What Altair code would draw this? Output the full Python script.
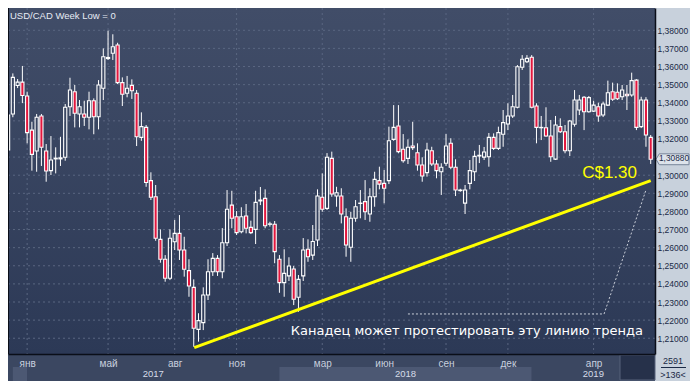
import json
import altair as alt
import pandas as pd

# ---- weekly USD/CAD candles, bar index 1..136 ----
OPEN = [1.3139, 1.3338, 1.3495, 1.3514, 1.3437, 1.3249, 1.3134, 1.3327, 1.3134, 1.3025,
        1.3090, 1.3090, 1.3099, 1.3378, 1.3461, 1.3338, 1.3338, 1.3320, 1.3411, 1.3323,
        1.3480, 1.3644, 1.3673, 1.3719, 1.3511, 1.3452, 1.3496, 1.3452, 1.3209, 1.3264,
        1.2970, 1.2881, 1.2646, 1.2536, 1.2431, 1.2633, 1.2679, 1.2587, 1.2473, 1.2381,
        1.2149, 1.2186, 1.2339, 1.2467, 1.2541, 1.2467, 1.2627, 1.2835, 1.2771, 1.2688,
        1.2775, 1.2712, 1.2701, 1.2858, 1.2872, 1.2729, 1.2729, 1.2536, 1.2407, 1.2444,
        1.2482, 1.2326, 1.2444, 1.2591, 1.2559, 1.2642, 1.2878, 1.2817, 1.3093, 1.2885,
        1.2885, 1.2771, 1.2602, 1.2762, 1.2844, 1.2854, 1.2786, 1.2881, 1.2970, 1.2955,
        1.2970, 1.3198, 1.3272, 1.3143, 1.3093, 1.3161, 1.3124, 1.3056, 1.3014, 1.3135,
        1.3062, 1.3019, 1.3066, 1.3176, 1.3044, 1.2915, 1.2846, 1.2955, 1.3019, 1.3106,
        1.3100, 1.3102, 1.3209, 1.3148, 1.3226, 1.3283, 1.3327, 1.3375, 1.3596, 1.3626,
        1.3651, 1.3382, 1.3262, 1.3262, 1.3216, 1.3089, 1.3268, 1.3240, 1.3135, 1.3281,
        1.3360, 1.3430, 1.3350, 1.3354, 1.3378, 1.3332, 1.3387, 1.3461, 1.3458, 1.3433,
        1.3447, 1.3443, 1.3525, 1.3268, 1.3415, 1.3209]
HIGH = [1.3343, 1.3562, 1.3531, 1.3603, 1.3461, 1.3295, 1.3338, 1.3338, 1.3172, 1.3216,
        1.3154, 1.3212, 1.3393, 1.3538, 1.3498, 1.3415, 1.3411, 1.3461, 1.3424, 1.3525,
        1.3700, 1.3798, 1.3778, 1.3731, 1.3540, 1.3548, 1.3529, 1.3470, 1.3347, 1.3277,
        1.3016, 1.2946, 1.2701, 1.2559, 1.2701, 1.2753, 1.2780, 1.2660, 1.2536, 1.2425,
        1.2238, 1.2381, 1.2536, 1.2570, 1.2559, 1.2708, 1.2918, 1.2914, 1.2802, 1.2823,
        1.2841, 1.2749, 1.2914, 1.2935, 1.2922, 1.2743, 1.2747, 1.2559, 1.2591, 1.2547,
        1.2499, 1.2449, 1.2653, 1.2646, 1.2725, 1.2922, 1.3010, 1.3122, 1.3130, 1.2936,
        1.2928, 1.2817, 1.2798, 1.2863, 1.2918, 1.2973, 1.2928, 1.3019, 1.3047, 1.3029,
        1.3268, 1.3387, 1.3387, 1.3227, 1.3198, 1.3295, 1.3176, 1.3099, 1.3179, 1.3157,
        1.3084, 1.3066, 1.3227, 1.3204, 1.3088, 1.2925, 1.2946, 1.3084, 1.3135, 1.3167,
        1.3156, 1.3233, 1.3231, 1.3268, 1.3360, 1.3397, 1.3443, 1.3608, 1.3663, 1.3663,
        1.3663, 1.3397, 1.3327, 1.3375, 1.3305, 1.3327, 1.3314, 1.3277, 1.3305, 1.3470,
        1.3443, 1.3437, 1.3437, 1.3411, 1.3400, 1.3406, 1.3522, 1.3511, 1.3507, 1.3498,
        1.3498, 1.3566, 1.3530, 1.3433, 1.3431, 1.3222]
LOW = [1.3128, 1.3320, 1.3481, 1.3398, 1.3176, 1.3025, 1.3019, 1.3051, 1.2964, 1.3001,
       1.3010, 1.3051, 1.3080, 1.3327, 1.3264, 1.3264, 1.3272, 1.3253, 1.3226, 1.3253,
       1.3415, 1.3636, 1.3636, 1.3503, 1.3382, 1.3430, 1.3421, 1.3161, 1.3190, 1.2936,
       1.2863, 1.2638, 1.2517, 1.2412, 1.2421, 1.2587, 1.2532, 1.2440, 1.2329, 1.2053,
       1.2081, 1.2145, 1.2311, 1.2444, 1.2444, 1.2431, 1.2609, 1.2707, 1.2670, 1.2679,
       1.2679, 1.2675, 1.2620, 1.2835, 1.2707, 1.2716, 1.2514, 1.2351, 1.2329, 1.2416,
       1.2283, 1.2246, 1.2416, 1.2522, 1.2532, 1.2609, 1.2798, 1.2808, 1.2881, 1.2826,
       1.2734, 1.2550, 1.2522, 1.2743, 1.2762, 1.2753, 1.2743, 1.2826, 1.2922, 1.2845,
       1.2951, 1.3190, 1.3121, 1.3069, 1.3062, 1.3139, 1.3025, 1.2964, 1.2992, 1.3051,
       1.2983, 1.2891, 1.3051, 1.3033, 1.2885, 1.2909, 1.2786, 1.2922, 1.2968, 1.3067,
       1.3084, 1.3047, 1.3139, 1.3139, 1.3157, 1.3249, 1.3316, 1.3369, 1.3581, 1.3619,
       1.3369, 1.3176, 1.3194, 1.3212, 1.3074, 1.3084, 1.3233, 1.3121, 1.3106, 1.3268,
       1.3332, 1.3249, 1.3345, 1.3349, 1.3295, 1.3321, 1.3382, 1.3410, 1.3415, 1.3415,
       1.3360, 1.3433, 1.3249, 1.3260, 1.3157, 1.3062]
CLOSE = [1.3332, 1.3540, 1.3514, 1.3440, 1.3235, 1.3115, 1.3320, 1.3154, 1.3023, 1.3084,
         1.3094, 1.3096, 1.3375, 1.3470, 1.3342, 1.3378, 1.3320, 1.3411, 1.3323, 1.3498,
         1.3654, 1.3650, 1.3709, 1.3511, 1.3447, 1.3480, 1.3466, 1.3212, 1.3268, 1.2960,
         1.2878, 1.2652, 1.2536, 1.2431, 1.2652, 1.2679, 1.2587, 1.2481, 1.2388, 1.2155,
         1.2197, 1.2339, 1.2467, 1.2541, 1.2467, 1.2627, 1.2812, 1.2762, 1.2683, 1.2771,
         1.2707, 1.2683, 1.2850, 1.2863, 1.2721, 1.2731, 1.2578, 1.2407, 1.2458, 1.2499,
         1.2315, 1.2425, 1.2587, 1.2550, 1.2634, 1.2885, 1.2812, 1.3099, 1.2896, 1.2903,
         1.2786, 1.2615, 1.2762, 1.2826, 1.2846, 1.2798, 1.2881, 1.2977, 1.2951, 1.2928,
         1.3190, 1.3264, 1.3130, 1.3080, 1.3154, 1.3152, 1.3056, 1.2996, 1.3139, 1.3062,
         1.3025, 1.3044, 1.3161, 1.3044, 1.2918, 1.2918, 1.2918, 1.3025, 1.3104, 1.3110,
         1.3128, 1.3209, 1.3148, 1.3235, 1.3290, 1.3327, 1.3378, 1.3599, 1.3640, 1.3645,
         1.3375, 1.3264, 1.3264, 1.3216, 1.3102, 1.3277, 1.3240, 1.3135, 1.3299, 1.3415,
         1.3415, 1.3350, 1.3428, 1.3387, 1.3327, 1.3393, 1.3455, 1.3419, 1.3422, 1.3470,
         1.3439, 1.3522, 1.3264, 1.3415, 1.3222, 1.3088]

# ---- axis / annotation values ----
MONTH_POS = [5, 22, 36, 49, 67, 80, 93, 106, 124]
MONTH_LABELS = ["янв", "май", "авг", "ноя", "мар", "июн", "сен", "дек", "апр"]
YEAR_START = [2, 5, 58, 111]
YEAR_END = [5, 58, 111, 136.9]
YEAR_LABELS = ["", "2017", "2018", "2019"]
YEAR_SHADE = ["light", "dark", "light", "dark"]
GRID_PRICES = [1.21, 1.22, 1.23, 1.24, 1.25, 1.26, 1.27, 1.28, 1.29,
               1.30, 1.31, 1.32, 1.33, 1.34, 1.35, 1.36, 1.37, 1.38]
PRICE_TICKS = [1.21, 1.22, 1.23, 1.24, 1.25, 1.26, 1.27, 1.28, 1.29,
               1.30, 1.32, 1.33, 1.34, 1.35, 1.36, 1.37, 1.38]
TREND_X = [40.1, 136]
TREND_Y = [1.2048, 1.2970]
HINT_X = [85.0, 126.2, 135.0]
HINT_Y = [1.2234, 1.2234, 1.2918]
TITLE = "USD/CAD Week Low = 0"
TARGET_TEXT = "C$1.30"
TARGET_POS = (121.6, 1.2985)
NOTE_TEXT = "Канадец может протестировать эту линию тренда"
NOTE_POS = (60.4, 1.2118)
BAR_COUNT_TOP = "2591"
BAR_COUNT_BOTTOM = ">136<"

W, H = 647, 346          # plot area; whole canvas is 682 x 373
PR, PB = 35, 27          # right / bottom padding
xs = alt.Scale(domain=[0.98, 136.9], nice=False, zero=False)
ys = alt.Scale(domain=[1.2013, 1.3923], nice=False, zero=False)

label_expr = f"{json.dumps(MONTH_LABELS, ensure_ascii=False)}[indexof({json.dumps(MONTH_POS)}, datum.value)]"
XA = alt.Axis(values=MONTH_POS, labelExpr=label_expr, grid=False, ticks=False, domain=True,
              domainColor="#0a0e18", domainWidth=1.5, labelColor="#c8d0df", labelFont="Liberation Sans",
              labelFontSize=10, labelPadding=4, title=None, zindex=1, labelFlush=False, labelOverlap=False)
YA = alt.Axis(orient="right", values=PRICE_TICKS, labelExpr="replace(format(datum.value, '.5f'), '.', ',')",
              grid=False, ticks=False, domain=True, domainColor="#0a0e18", domainWidth=1.5,
              labelColor="#1b2a46", labelFont="Liberation Sans", labelFontSize=8.5, labelPadding=2,
              title=None, zindex=1, labelOverlap=False, labelFlush=False)


def X(field):
    return alt.X(field, scale=xs, axis=XA)


def Y(field):
    return alt.Y(field, scale=ys, axis=YA)


df = pd.DataFrame({"i": list(range(1, len(OPEN) + 1)), "o": OPEN, "h": HIGH, "l": LOW, "c": CLOSE})
one = pd.DataFrame({"k": [0]})

grad = alt.LinearGradient(
    gradient="linear",
    stops=[alt.GradientStop(color="#414d68", offset=0), alt.GradientStop(color="#2c3956", offset=1)],
    x1=0, x2=0, y1=0, y2=1,
)
bg = alt.Chart(one).mark_rect(color=grad).encode(
    x=alt.value(0), x2=alt.value(W), y=alt.value(0), y2=alt.value(H))

bottom_panel = alt.Chart(one).mark_rect(color="#3b4761").encode(
    x=alt.value(0), x2=alt.value(W), y=alt.value(H), y2=alt.value(H + PB))

years_df = pd.DataFrame({"s": YEAR_START, "e": YEAR_END, "label": YEAR_LABELS, "shade": YEAR_SHADE})
year_bands = alt.Chart(years_df).mark_rect().encode(
    x=X("s:Q"), x2="e:Q",
    y=alt.value(H + 13), y2=alt.value(H + PB),
    color=alt.Color("shade:N", scale=alt.Scale(domain=["light", "dark"], range=["#4c5873", "#3b4761"]), legend=None),
)
year_text = alt.Chart(years_df).transform_calculate(mid="(datum.s + datum.e) / 2").mark_text(
    color="#d6dce8", font="Liberation Sans", fontSize=9.5, baseline="middle").encode(
    x=X("mid:Q"), y=alt.value(H + 20), text="label:N")

dark_box = alt.Chart(one).mark_rect(color="#26314a", stroke="#56627a", strokeWidth=1).encode(
    x=alt.value(612), x2=alt.value(W), y=alt.value(H + 1), y2=alt.value(H + 26))

grid_h = alt.Chart(pd.DataFrame({"p": GRID_PRICES})).mark_rule(
    color="#5a6681", strokeDash=[2, 3], strokeWidth=1).encode(
    y=Y("p:Q"), x=alt.value(0), x2=alt.value(W))
grid_v = alt.Chart(pd.DataFrame({"m": MONTH_POS})).mark_rule(
    color="#5a6681", strokeDash=[2, 3], strokeWidth=1).encode(
    x=X("m:Q"), y=alt.value(0), y2=alt.value(H))

base = alt.Chart(df).transform_calculate(
    top="max(datum.o, datum.c)", bot="min(datum.o, datum.c)",
    x0="datum.i - 0.33", x1="datum.i + 0.33")

wick_top = base.mark_rule(color="white", strokeWidth=1, clip=True).encode(
    x=X("i:Q"), y=Y("h:Q"), y2="top:Q")
wick_bot = base.mark_rule(color="white", strokeWidth=1, clip=True).encode(
    x=X("i:Q"), y=Y("bot:Q"), y2="l:Q")

bodies = base.mark_rect(stroke="white", strokeWidth=1.1, clip=True).encode(
    x=X("x0:Q"), x2="x1:Q",
    y=Y("o:Q"), y2="c:Q",
    fill=alt.condition("datum.c >= datum.o", alt.value("transparent"), alt.value("#e3173e")),
)

left_edge = alt.Chart(one).mark_rule(color="#0a0e18", strokeWidth=1).encode(
    x=alt.value(0.5), y=alt.value(0), y2=alt.value(H))

trend = alt.Chart(pd.DataFrame({"x": TREND_X, "y": TREND_Y})).mark_line(
    color="#ffff00", strokeWidth=3).encode(x=X("x:Q"), y=Y("y:Q"))
hint = alt.Chart(pd.DataFrame({"x": HINT_X, "y": HINT_Y})).mark_line(
    color="#c9ced8", strokeDash=[2, 2], strokeWidth=1).encode(x=X("x:Q"), y=Y("y:Q"))

target = alt.Chart(pd.DataFrame({"x": [TARGET_POS[0]], "y": [TARGET_POS[1]], "t": [TARGET_TEXT]})).mark_text(
    align="left", baseline="alphabetic", color="#ffff00", font="Liberation Sans", fontSize=17).encode(
    x=X("x:Q"), y=Y("y:Q"), text="t:N")
note = alt.Chart(pd.DataFrame({"x": [NOTE_POS[0]], "y": [NOTE_POS[1]], "t": [NOTE_TEXT]})).mark_text(
    align="left", baseline="alphabetic", color="#ffffff", font="DejaVu Sans", fontSize=13).encode(
    x=X("x:Q"), y=Y("y:Q"), text="t:N")
title = alt.Chart(one).mark_text(
    align="left", baseline="alphabetic", color="#e6ebf4", font="Liberation Sans", fontSize=9.5).encode(
    x=alt.value(2), y=alt.value(10.5), text=alt.value(TITLE))

tag_df = pd.DataFrame({"c": [CLOSE[-1]]})
tag_shape = alt.Chart(tag_df).mark_point(
    shape="M -1 0 L -0.8 -0.33 L 1 -0.33 L 1 0.33 L -0.8 0.33 Z", size=1089, filled=True,
    fill="#dde3eb", stroke="#76849a", strokeWidth=1, opacity=1).encode(
    x=alt.value(W + 17.5), y=Y("c:Q"))
tag_text = alt.Chart(tag_df).transform_calculate(
    t="replace(format(datum.c, '.5f'), '.', ',')").mark_text(
    font="Liberation Sans", fontSize=8.3, color="#1b2a46", baseline="middle").encode(
    x=alt.value(W + 19), y=Y("c:Q"), text="t:N")

count_top = alt.Chart(one).mark_text(
    font="Liberation Sans", fontSize=9, color="#1b2a46", baseline="middle").encode(
    x=alt.value(W + 18), y=alt.value(H + 7), text=alt.value(BAR_COUNT_TOP))
count_line = alt.Chart(one).mark_rule(color="#1b2a46", strokeWidth=1).encode(
    x=alt.value(W + 6), x2=alt.value(W + 31), y=alt.value(H + 13.5))
count_bot = alt.Chart(one).mark_text(
    font="Liberation Sans", fontSize=9, color="#1b2a46", baseline="middle").encode(
    x=alt.value(W + 18), y=alt.value(H + 20.5), text=alt.value(BAR_COUNT_BOTTOM))

chart = alt.layer(
    bg, bottom_panel, year_bands, dark_box, grid_h, grid_v,
    wick_top, wick_bot, bodies, left_edge, trend, hint,
    target, note, title, year_text, tag_shape, tag_text,
    count_top, count_line, count_bot,
).properties(
    width=W, height=H,
    padding={"left": 0, "top": 0, "right": PR, "bottom": PB},
    autosize=alt.AutoSizeParams(type="none"),
    background="#c8d1dc",
).configure_view(strokeWidth=0)

chart.save("out.html", embed_options={"renderer": "svg", "actions": False})
